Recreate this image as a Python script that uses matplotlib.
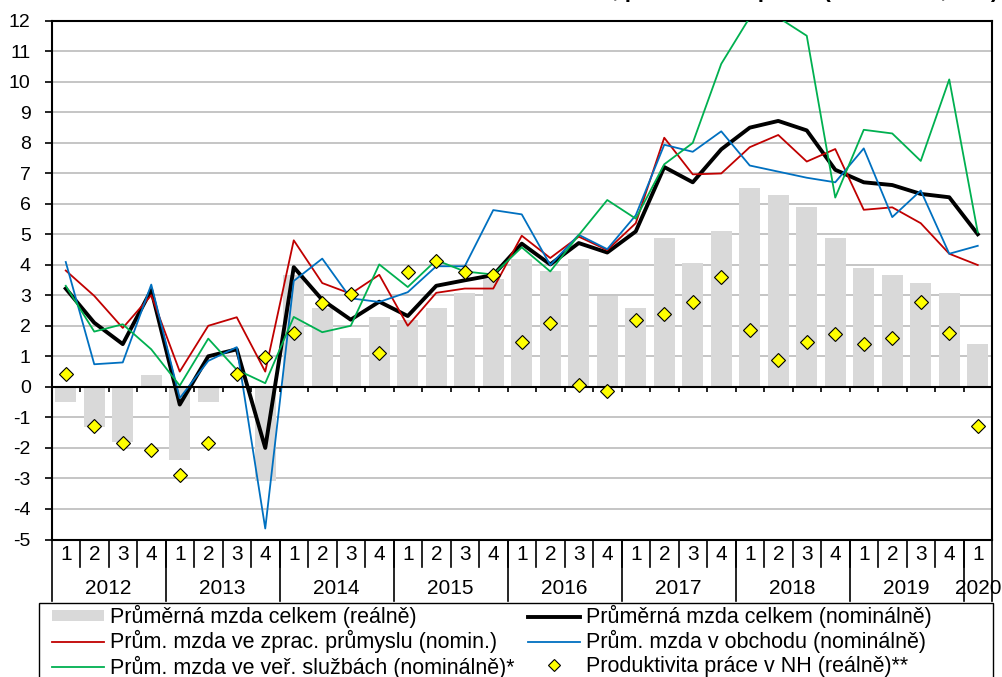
import numpy as np
import matplotlib
matplotlib.use("Agg")
import matplotlib.pyplot as plt
from matplotlib.patches import Rectangle, Patch
from matplotlib.lines import Line2D
import matplotlib.transforms as mtransforms

plt.rcParams['font.family'] = ['Liberation Sans', 'DejaVu Sans']
plt.rcParams['axes.unicode_minus'] = False

# ---- data ----
quarter_labels = ['1', '2', '3', '4'] * 8 + ['1']
year_labels = ['2012', '2013', '2014', '2015', '2016', '2017', '2018', '2019', '2020']
year_quarters = [4, 4, 4, 4, 4, 4, 4, 4, 1]

real_total = [-0.49, -1.31, -1.80, 0.39,
              -2.40, -0.49, 0.00, -3.10,
              3.68, 2.58, 1.60, 2.28,
              2.20, 2.58, 3.08, 3.54,
              4.19, 3.78, 4.19, 2.96,
              2.58, 4.89, 4.07, 5.09,
              6.50, 6.29, 5.88, 4.89,
              3.89, 3.68, 3.39, 3.08,
              1.40]
nominal_total = [3.22, 2.10, 1.40, 3.17,
                 -0.58, 1.00, 1.23, -2.00,
                 3.92, 2.85, 2.20, 2.79,
                 2.32, 3.31, 3.49, 3.66,
                 4.69, 4.01, 4.71, 4.40,
                 5.09, 7.20, 6.70, 7.78,
                 8.49, 8.71, 8.40, 7.11,
                 6.70, 6.61, 6.32, 6.21,
                 5.00]
manufacturing = [3.81, 2.98, 1.93, 3.00,
                 0.50, 2.00, 2.28, 0.50,
                 4.80, 3.40, 3.05, 3.67,
                 2.00, 3.08, 3.22, 3.22,
                 4.95, 4.22, 4.92, 4.48,
                 5.36, 8.16, 6.96, 6.99,
                 7.85, 8.25, 7.38, 7.79,
                 5.80, 5.88, 5.36, 4.36,
                 3.99]
trade = [4.09, 0.74, 0.80, 3.35,
         -0.37, 0.85, 1.30, -4.64,
         3.47, 4.20, 2.90, 2.78,
         3.10, 3.95, 3.95, 5.79,
         5.65, 3.99, 4.98, 4.51,
         5.62, 7.93, 7.70, 8.37,
         7.25, 7.05, 6.85, 6.70,
         7.81, 5.56, 6.43, 4.36,
         4.62]
public_services = [3.31, 1.81, 2.05, 1.23,
                   0.04, 1.58, 0.56, 0.12,
                   2.29, 1.79, 2.00, 4.01,
                   3.27, 4.15, 3.78, 3.68,
                   4.57, 3.78, 4.97, 6.12,
                   5.51, 7.29, 7.99, 10.58,
                   12.10, 12.10, 11.50, 6.20,
                   8.42, 8.30, 7.40, 10.07,
                   5.06]
productivity = [0.41, -1.29, -1.84, -2.07,
                -2.89, -1.84, 0.41, 0.97,
                1.75, 2.76, 3.04, 1.10,
                3.75, 4.13, 3.75, 3.68,
                1.47, 2.08, 0.07, -0.12,
                2.20, 2.40, 2.77, 3.59,
                1.87, 0.89, 1.47, 1.73,
                1.42, 1.60, 2.77, 1.75,
                -1.29]

names = ['Průměrná mzda celkem (reálně)',
         'Průměrná mzda celkem (nominálně)',
         'Prům. mzda ve zprac. průmyslu (nomin.)',
         'Prům. mzda v obchodu (nominálně)',
         'Prům. mzda ve veř. službách (nominálně)*',
         'Produktivita práce v NH (reálně)**']
title = 'Průměrná mzda, produktivita práce (meziročně, v %)'

C_BAR = '#D9D9D9'
C_RED = '#C00000'
C_BLUE = '#0070C0'
C_GREEN = '#00B050'
C_GRID = '#C0C0C0'

W, H = 1002, 677
fig = plt.figure(figsize=(W / 100, H / 100), dpi=100)
ax = fig.add_axes([51.5 / W, 1 - 539.5 / H, 940.5 / W, 519 / H])

n = len(real_total)
x = np.arange(n)

ax.bar(x, real_total, width=0.73, color=C_BAR, zorder=1)
ax.plot(x, nominal_total, color='black', lw=2.8, zorder=3)
ax.plot(x, manufacturing, color=C_RED, lw=1.3, zorder=4)
ax.plot(x, trade, color=C_BLUE, lw=1.3, zorder=4)
ax.plot(x, public_services, color=C_GREEN, lw=1.3, zorder=4)
ax.plot(x, productivity, ls='none', marker='D', ms=7, mfc='#FFFF00', mec='black',
        mew=0.8, zorder=6)

ax.set_xlim(-0.5, n - 0.5)
ax.set_ylim(-5, 12)
ax.set_yticks(np.arange(-5, 13, 1))
ax.yaxis.grid(True, color=C_GRID, lw=1.3, zorder=0)
ax.set_axisbelow(True)
ax.tick_params(axis='y', direction='out', length=5, width=1.2, pad=10, labelsize=14)
ax.set_xticks([])
for s in ax.spines.values():
    s.set_color('black')
    s.set_linewidth(1.5)

# zero line with small ticks at quarter boundaries
ax.axhline(0, color='black', lw=1.5, zorder=5)
bounds = np.arange(0.5, n - 1, 1)
ax.vlines(bounds, -0.17, 0, color='black', lw=1.2, zorder=5)

# category table below axis
trans = mtransforms.blended_transform_factory(ax.transData, ax.transAxes)
ah = 519.0
q_bottom = -27.5 / ah
y_bottom = -61.0 / ah
for b in bounds:
    ax.plot([b, b], [0, q_bottom], color='black', lw=1.2, transform=trans, clip_on=False)
for i, lab in enumerate(quarter_labels):
    ax.text(i, -15.5 / ah, lab, transform=trans, ha='center', va='center', fontsize=15)
start = 0
edges = [-0.5]
for yl, nq in zip(year_labels, year_quarters):
    ax.text(start + (nq - 1) / 2, -48.5 / ah, yl, transform=trans, ha='center',
            va='center', fontsize=15)
    start += nq
    edges.append(start - 0.5)
for e in edges:
    ax.plot([e, e], [0, y_bottom], color='black', lw=1.2, transform=trans, clip_on=False)

# legend frame and legend
fig.patches.append(Rectangle((39 / W, 1 - 692 / H), (993 - 39) / W, (692 - 603) / H,
                             transform=fig.transFigure, fill=False, edgecolor='black',
                             lw=1.0))
handles = [Patch(facecolor=C_BAR, edgecolor='none'),
           Line2D([], [], color=C_RED, lw=1.3),
           Line2D([], [], color=C_GREEN, lw=1.3),
           Line2D([], [], color='black', lw=2.8),
           Line2D([], [], color=C_BLUE, lw=1.3),
           Line2D([], [], ls='none', marker='D', ms=6.5, mfc='#FFFF00', mec='black', mew=0.8)]
labels = [names[0], names[2], names[4], names[1], names[3], names[5]]
fig.legend(handles, labels, loc='upper left', bbox_to_anchor=(52 / W, 1 - 605 / H),
           ncol=2, frameon=False, fontsize=15.5, borderpad=0, borderaxespad=0,
           handlelength=2.4, handleheight=0.4, handletextpad=0.3,
           columnspacing=0.62, labelspacing=0.1)

# title (mostly above the visible area, as in the reference)
fig.text(998 / W, 1 + 3.0 / H, title, ha='right', va='baseline', fontsize=16,
         fontweight='bold')

fig.savefig('out.png', dpi=100)
